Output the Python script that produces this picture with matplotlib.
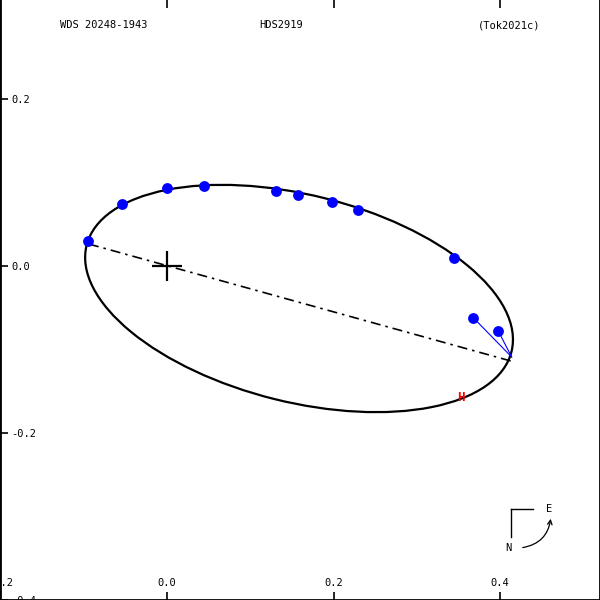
import matplotlib
matplotlib.use("Agg")
import matplotlib.pyplot as plt
from matplotlib.patches import Ellipse, FancyArrowPatch

# observed positions (x, y)
obs_x = [-0.095, -0.054, 0.000, 0.044, 0.131, 0.157, 0.198, 0.229, 0.345, 0.368, 0.398]
obs_y = [0.030, 0.074, 0.093, 0.096, 0.090, 0.085, 0.077, 0.067, 0.010, -0.062, -0.078]

# residual lines: observed -> predicted
res_from_x = [0.368, 0.398]
res_from_y = [-0.062, -0.078]
res_to_x = [0.414, 0.414]
res_to_y = [-0.109, -0.109]

# orbit ellipse
orb_center = (0.1586, -0.0389)
orb_a = 0.263
orb_b = 0.124
orb_angle = -14.0

# line of nodes
node_x = [-0.0937, 0.4132]
node_y = [0.0263, -0.1138]

# periastron marker
peri_x, peri_y = 0.353, -0.157

xticks = [-0.2, 0.0, 0.2, 0.4]
yticks = [-0.4, -0.2, 0.0, 0.2]

fig = plt.figure(figsize=(6, 6), dpi=100)
ax = fig.add_axes([0, 0, 1, 1])
ax.set_xlim(-0.2006, 0.5201)
ax.set_ylim(-0.4, 0.3186)

mono = "DejaVu Sans Mono"

ax.add_patch(Ellipse(orb_center, 2 * orb_a, 2 * orb_b, angle=orb_angle,
                     fill=False, color="black", lw=1.6))
ax.plot(node_x, node_y, color="black", lw=1.2, linestyle=(0, (6, 3, 1.5, 3)))
for x0, y0, x1, y1 in zip(res_from_x, res_from_y, res_to_x, res_to_y):
    ax.plot([x0, x1], [y0, y1], color="blue", lw=0.8)
ax.plot(obs_x, obs_y, "o", color="blue", markersize=7.8, markeredgewidth=0)
ax.plot([0], [0], "+", color="black", markersize=22, markeredgewidth=1.6)
ax.text(peri_x, peri_y, "H", color="red", fontsize=9, fontweight="bold",
        family=mono, ha="center", va="center")

# ticks inside
ax.set_xticks(xticks)
ax.set_xticklabels(["%.1f" % v for v in xticks], family=mono, fontsize=7.5)
ax.set_yticks(yticks)
ax.set_yticklabels(["%.1f" % v for v in yticks], family=mono, fontsize=7.5)
ax.tick_params(axis="x", direction="in", length=6, width=1.2, top=True, pad=-16)
ax.tick_params(axis="y", direction="in", length=6, width=1.2, pad=-8)
for lab in ax.get_yticklabels():
    lab.set_horizontalalignment("left")
for s in ax.spines.values():
    s.set_linewidth(2)
ax.spines["top"].set_visible(False)

# header
ax.text(60 / 600, 1 - 25 / 600, "WDS 20248-1943", transform=ax.transAxes,
        family=mono, fontsize=7.5, ha="left", va="center")
ax.text(281 / 600, 1 - 25 / 600, "HDS2919", transform=ax.transAxes,
        family=mono, fontsize=7.5, ha="center", va="center")
ax.text(540 / 600, 1 - 25 / 600, "(Tok2021c)", transform=ax.transAxes,
        family=mono, fontsize=7.5, ha="right", va="center")

# compass
def P(px, py):
    return (px / 600, 1 - py / 600)

ax.plot(*zip(P(511, 509), P(511, 537)), color="black", lw=1, transform=ax.transAxes)
ax.plot(*zip(P(511, 509), P(533, 509)), color="black", lw=1, transform=ax.transAxes)
ax.text(*P(549, 509), "E", transform=ax.transAxes, family=mono, fontsize=7.5,
        ha="center", va="center")
ax.text(*P(508, 548), "N", transform=ax.transAxes, family=mono, fontsize=7.5,
        ha="center", va="center")
ax.add_patch(FancyArrowPatch(P(520, 548), P(551, 516), transform=ax.transAxes,
                             connectionstyle="arc3,rad=0.4", arrowstyle="->",
                             mutation_scale=8, color="black", lw=0.9))

fig.savefig("out.png", dpi=100)
